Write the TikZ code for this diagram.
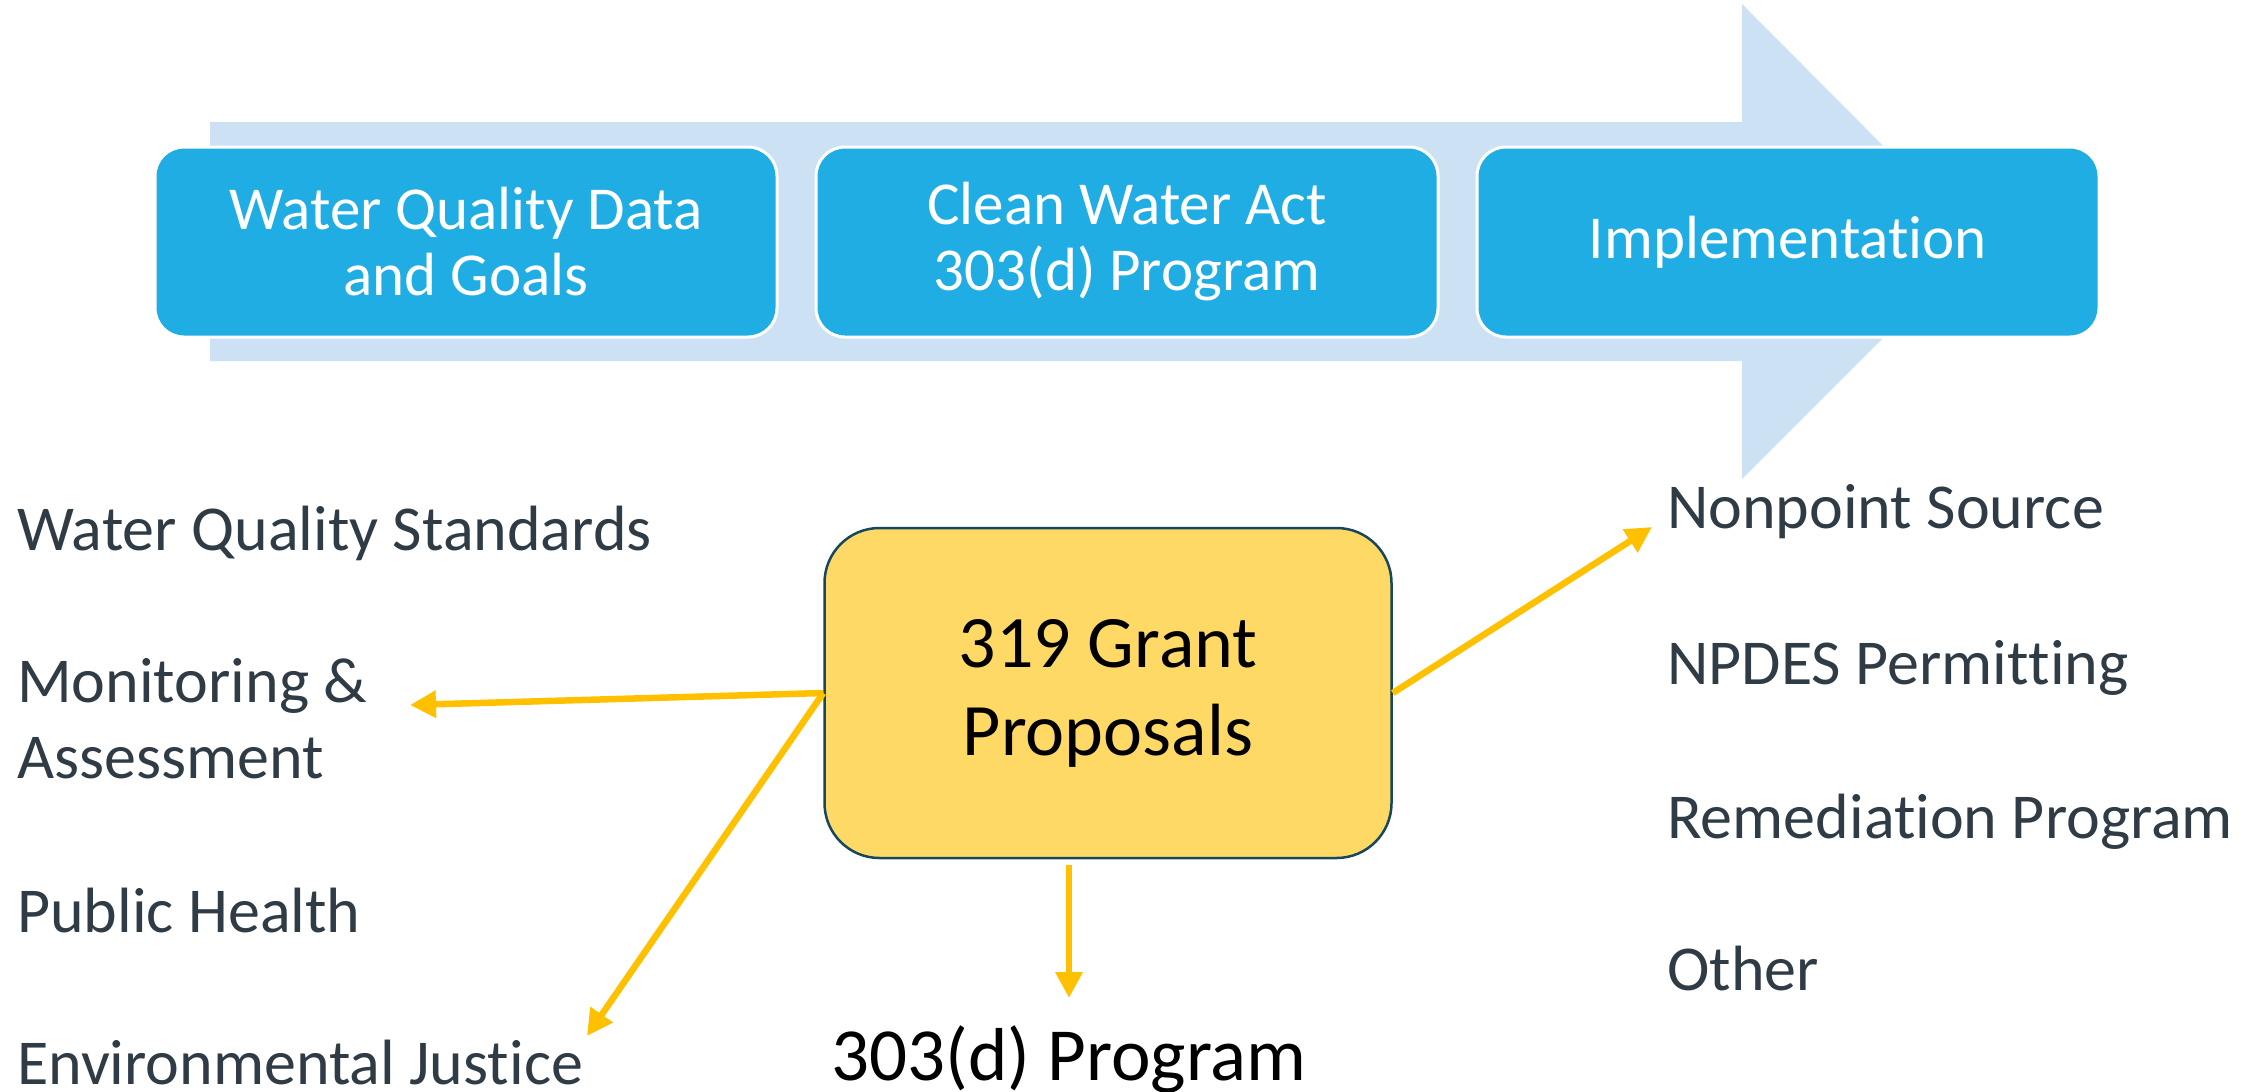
\documentclass[tikz,border=0pt]{standalone}
\usepackage{fontspec}
\setmainfont{Carlito}[Ligatures=NoCommon]
\usetikzlibrary{arrows.meta,positioning}

\definecolor{stageblue}{HTML}{1FADE4}
\definecolor{flowblue}{HTML}{CCE2F4}
\definecolor{grantfill}{HTML}{FFD966}
\definecolor{grantline}{HTML}{17475C}
\definecolor{linkgold}{HTML}{FFC000}
\definecolor{listtext}{HTML}{2F3B45}

\begin{document}
\begin{tikzpicture}[
		x=1pt, y=-1pt,
		node distance=36pt,
		stage/.style={draw=white, line width=3pt, fill=stageblue, rounded corners=29pt, minimum width=622pt, minimum height=190pt, align=center, text=white, font=\fontsize{61}{66}\selectfont, inner sep=0pt},
		item/.style={anchor=base west, inner sep=0pt, text=listtext, font=\fontsize{64}{76}\selectfont},
		link/.style={draw=linkgold, line width=6.5pt, -{Triangle[length=26pt,width=26pt]}},
	]
		\useasboundingbox (0,0) rectangle (2257,1092);
		\clip (0,0) rectangle (2257,1092);
		% process arrow behind the stages
		\fill[flowblue] (210,122) -- (1742,122) -- (1742,4) -- (1979,242) -- (1742,479) -- (1742,361) -- (210,361) -- cycle;

		\node (data) [stage] at (466,242) {Water Quality Data\\and Goals};
		\node (cwa) [stage, right=of data] {Clean Water Act\\303(d) Program};
		\node (impl) [stage, right=of cwa] {Implementat\kern0pt ion};

		\node (grant) [draw=grantline, line width=2.5pt, fill=grantfill, rounded corners=55pt, minimum width=567pt, minimum height=330pt, align=center, font=\fontsize{74}{88}\selectfont] at (1108,693) {319 Grant\\Proposals};

		% left list
		\node (wqs) [item] at (17,550) {Water Quality Standards};
		\node (mon) [item] at (17,702) {Monitoring \&};
		\node (assess) [item] at (17,778) {Assessment};
		\node (ph) [item] at (17,932) {Public Health};
		\node (ej) [item] at (17,1084) {Environmental Justice};

		% right list
		\node (nps) [item] at (1667,528) {Nonpoint Source};
		\node (npdes) [item] at (1667,684) {NPDES Permit\kern0pt t\kern0pt ing};
		\node (rem) [item] at (1667,838) {Remediat\kern0pt ion Program};
		\node (other) [item] at (1667,990) {Other};

		\node (prog) [anchor=base, inner sep=0pt, font=\fontsize{75}{86}\selectfont] at (1069,1080) {303(d) Program};

		\coordinate (monTip) at (410,705);
		\coordinate (ejTip) at (587,1036);
		\coordinate (npsTip) at (1652,527);
		\coordinate (progTip) at (1069,998);

		\draw[link] (grant.west) -- (monTip);
		\draw[link] (grant.west) -- (ejTip);
		\draw[link] (grant.east) -- (npsTip);
		\draw[link] ([yshift=-6pt]prog.north |- grant.south) -- (progTip);
	\end{tikzpicture}
\end{document}
